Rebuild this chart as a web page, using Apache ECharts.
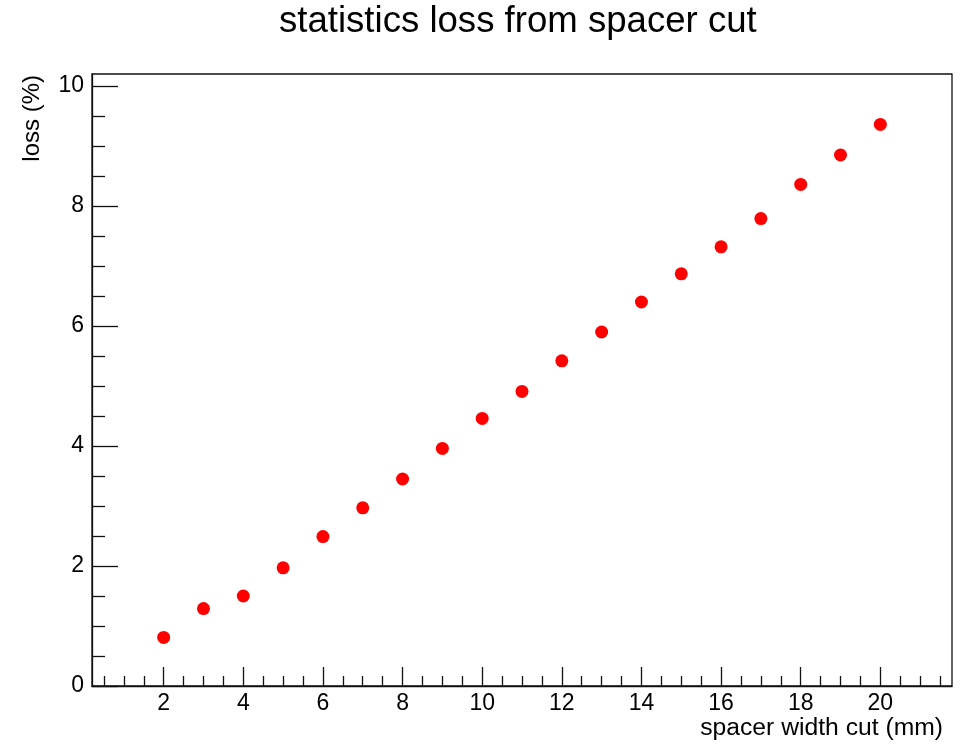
<!DOCTYPE html>
<html>
<head>
<meta charset="utf-8">
<script src="https://cdn.jsdelivr.net/npm/echarts@6/dist/echarts.min.js"></script>
<style>
  html, body { margin: 0; padding: 0; background: #fff; }
  #chart { width: 965px; height: 745px; }
</style>
</head>
<body>
<div id="chart"></div>
<script>
// spacer width cut (mm) vs statistics loss (%)
const widths = [2, 3, 4, 5, 6, 7, 8, 9, 10, 11, 12, 13, 14, 15, 16, 17, 18, 19, 20];
const loss = [0.81, 1.29, 1.50, 1.97, 2.49, 2.97, 3.45, 3.96, 4.46, 4.91, 5.42, 5.90, 6.40, 6.87, 7.32, 7.79, 8.36, 8.85, 9.36];

const xMajor = [2, 4, 6, 8, 10, 12, 14, 16, 18, 20];
const xMinor = [];
for (let v = 0.5; v <= 21.5; v += 0.5) if (v % 2 !== 0) xMinor.push(v);
const yMajor = [0, 2, 4, 6, 8, 10];
const yMinor = [];
for (let v = 0.5; v <= 10; v += 0.5) if (v % 2 !== 0) yMinor.push(v);

const font = "Liberation Sans, Arial, sans-serif";
const lineCol = "#111";

const myChart = echarts.init(document.getElementById("chart"));

const option = {
  animation: false,
  backgroundColor: "#fff",
  grid: {
    left: 92, right: 13, top: 74, bottom: 59,
    show: true, borderColor: lineCol, borderWidth: 1.3, backgroundColor: "transparent"
  },
  xAxis: [
    {
      type: "value", min: 0.2, max: 21.8,
      axisLine: { show: true, lineStyle: { color: lineCol, width: 1.3 } },
      axisTick: { show: true, inside: true, length: 19, customValues: xMajor, lineStyle: { color: lineCol, width: 1.3 } },
      axisLabel: { customValues: xMajor, margin: 6, fontFamily: font, fontSize: 23, color: "#000" },
      splitLine: { show: false }
    },
    {
      type: "value", min: 0.2, max: 21.8, position: "bottom",
      axisLine: { show: false },
      axisTick: { show: true, inside: true, length: 10, customValues: xMinor, lineStyle: { color: lineCol, width: 1.3 } },
      axisLabel: { show: false },
      splitLine: { show: false }
    }
  ],
  yAxis: [
    {
      type: "value", min: 0, max: 10.2,
      axisLine: { show: true, lineStyle: { color: lineCol, width: 1.3 } },
      axisTick: { show: true, inside: true, length: 26, customValues: yMajor, lineStyle: { color: lineCol, width: 1.3 } },
      axisLabel: { customValues: yMajor, margin: 8, fontFamily: font, fontSize: 23, color: "#000" },
      splitLine: { show: false }
    },
    {
      type: "value", min: 0, max: 10.2, position: "left",
      axisLine: { show: false },
      axisTick: { show: true, inside: true, length: 13, customValues: yMinor, lineStyle: { color: lineCol, width: 1.3 } },
      axisLabel: { show: false },
      splitLine: { show: false }
    }
  ],
  graphic: [
    {
      type: "text", x: 279, y: 22,
      style: { text: "statistics loss from spacer cut", font: "36.6px " + font, fill: "#000", align: "left", verticalAlign: "middle" }
    },
    {
      type: "text", x: 943, y: 728,
      style: { text: "spacer width cut (mm)", font: "24.7px " + font, fill: "#000", align: "right", verticalAlign: "middle" }
    },
    {
      type: "text", x: 32, y: 75, rotation: Math.PI / 2,
      style: { text: "loss (%)", font: "24px " + font, fill: "#000", align: "right", verticalAlign: "middle" }
    }
  ],
  series: [
    {
      type: "scatter",
      symbol: "circle",
      symbolSize: 13,
      itemStyle: { color: "#ff0000", opacity: 1 },
      data: widths.map((w, i) => [w, loss[i]])
    }
  ]
};

myChart.setOption(option);
</script>
</body>
</html>
